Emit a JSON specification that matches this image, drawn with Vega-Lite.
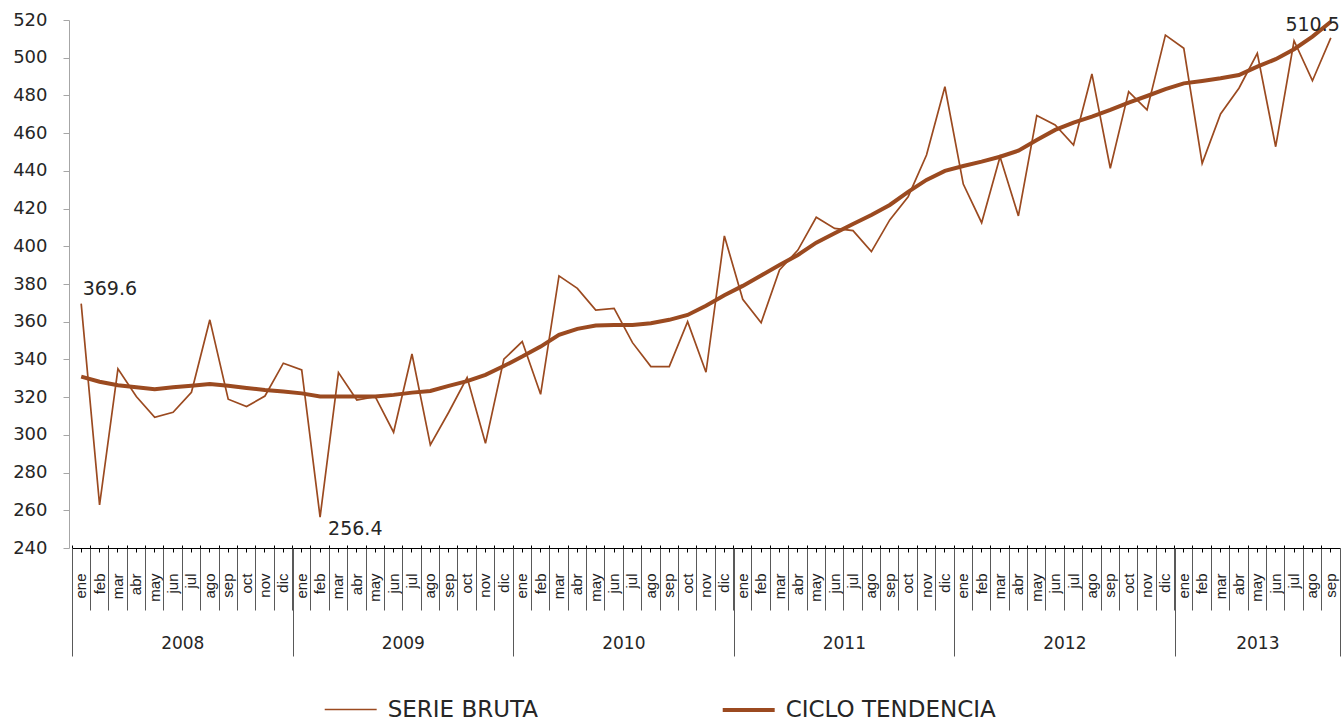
{
  "$schema": "https://vega.github.io/schema/vega-lite/v6.json",
  "width": 1268,
  "height": 528,
  "autosize": {"type": "none"},
  "padding": {"left": 72, "top": 20, "right": 3, "bottom": 174},
  "config": {
    "view": {"stroke": null},
    "font": "DejaVu Sans",
    "axis": {"grid": false, "title": null}
  },
  "layer": [
    {
      "data": {
        "values": [
          {"fecha": "2008-01", "bruta": 369.6, "tendencia": 330.9},
          {"fecha": "2008-02", "bruta": 262.8, "tendencia": 328.2},
          {"fecha": "2008-03", "bruta": 335.0, "tendencia": 326.3},
          {"fecha": "2008-04", "bruta": 320.3, "tendencia": 325.2},
          {"fecha": "2008-05", "bruta": 309.3, "tendencia": 324.2},
          {"fecha": "2008-06", "bruta": 312.0, "tendencia": 325.2},
          {"fecha": "2008-07", "bruta": 322.6, "tendencia": 326.1},
          {"fecha": "2008-08", "bruta": 361.0, "tendencia": 327.0},
          {"fecha": "2008-09", "bruta": 318.9, "tendencia": 326.0},
          {"fecha": "2008-10", "bruta": 315.0, "tendencia": 324.9},
          {"fecha": "2008-11", "bruta": 320.6, "tendencia": 323.8},
          {"fecha": "2008-12", "bruta": 338.0, "tendencia": 323.0},
          {"fecha": "2009-01", "bruta": 334.4, "tendencia": 322.0},
          {"fecha": "2009-02", "bruta": 256.4, "tendencia": 320.3},
          {"fecha": "2009-03", "bruta": 333.0, "tendencia": 320.3},
          {"fecha": "2009-04", "bruta": 318.5, "tendencia": 320.3},
          {"fecha": "2009-05", "bruta": 320.3, "tendencia": 320.3},
          {"fecha": "2009-06", "bruta": 301.4, "tendencia": 321.2},
          {"fecha": "2009-07", "bruta": 342.9, "tendencia": 322.4},
          {"fecha": "2009-08", "bruta": 294.7, "tendencia": 323.3},
          {"fecha": "2009-09", "bruta": 312.0, "tendencia": 326.0},
          {"fecha": "2009-10", "bruta": 330.4, "tendencia": 328.5},
          {"fecha": "2009-11", "bruta": 295.5, "tendencia": 331.8},
          {"fecha": "2009-12", "bruta": 340.1, "tendencia": 336.5},
          {"fecha": "2010-01", "bruta": 349.5, "tendencia": 341.5},
          {"fecha": "2010-02", "bruta": 321.5, "tendencia": 346.8},
          {"fecha": "2010-03", "bruta": 384.3, "tendencia": 353.0},
          {"fecha": "2010-04", "bruta": 377.7, "tendencia": 356.2},
          {"fecha": "2010-05", "bruta": 366.2, "tendencia": 358.0},
          {"fecha": "2010-06", "bruta": 367.1, "tendencia": 358.3},
          {"fecha": "2010-07", "bruta": 348.9, "tendencia": 358.3},
          {"fecha": "2010-08", "bruta": 336.2, "tendencia": 359.2},
          {"fecha": "2010-09", "bruta": 336.2, "tendencia": 361.0},
          {"fecha": "2010-10", "bruta": 360.0, "tendencia": 363.6},
          {"fecha": "2010-11", "bruta": 333.2, "tendencia": 368.5},
          {"fecha": "2010-12", "bruta": 405.5, "tendencia": 374.0},
          {"fecha": "2011-01", "bruta": 371.9, "tendencia": 379.0},
          {"fecha": "2011-02", "bruta": 359.5, "tendencia": 384.5},
          {"fecha": "2011-03", "bruta": 387.4, "tendencia": 390.1},
          {"fecha": "2011-04", "bruta": 398.0, "tendencia": 395.4},
          {"fecha": "2011-05", "bruta": 415.4, "tendencia": 401.9},
          {"fecha": "2011-06", "bruta": 409.5, "tendencia": 406.9},
          {"fecha": "2011-07", "bruta": 408.3, "tendencia": 411.8},
          {"fecha": "2011-08", "bruta": 397.2, "tendencia": 416.6},
          {"fecha": "2011-09", "bruta": 414.0, "tendencia": 421.9},
          {"fecha": "2011-10", "bruta": 426.3, "tendencia": 428.9},
          {"fecha": "2011-11", "bruta": 448.4, "tendencia": 435.2},
          {"fecha": "2011-12", "bruta": 484.6, "tendencia": 440.0},
          {"fecha": "2012-01", "bruta": 433.0, "tendencia": 442.6},
          {"fecha": "2012-02", "bruta": 412.5, "tendencia": 444.9},
          {"fecha": "2012-03", "bruta": 447.5, "tendencia": 447.5},
          {"fecha": "2012-04", "bruta": 416.1, "tendencia": 450.7},
          {"fecha": "2012-05", "bruta": 469.3, "tendencia": 456.4},
          {"fecha": "2012-06", "bruta": 464.3, "tendencia": 461.7},
          {"fecha": "2012-07", "bruta": 453.7, "tendencia": 465.6},
          {"fecha": "2012-08", "bruta": 491.4, "tendencia": 468.8},
          {"fecha": "2012-09", "bruta": 441.4, "tendencia": 472.3},
          {"fecha": "2012-10", "bruta": 482.0, "tendencia": 476.2},
          {"fecha": "2012-11", "bruta": 472.3, "tendencia": 479.7},
          {"fecha": "2012-12", "bruta": 512.0, "tendencia": 483.3},
          {"fecha": "2013-01", "bruta": 505.0, "tendencia": 486.4},
          {"fecha": "2013-02", "bruta": 444.0, "tendencia": 487.7},
          {"fecha": "2013-03", "bruta": 470.2, "tendencia": 489.1},
          {"fecha": "2013-04", "bruta": 483.8, "tendencia": 490.8},
          {"fecha": "2013-05", "bruta": 502.3, "tendencia": 495.3},
          {"fecha": "2013-06", "bruta": 452.8, "tendencia": 499.2},
          {"fecha": "2013-07", "bruta": 509.0, "tendencia": 504.5},
          {"fecha": "2013-08", "bruta": 487.8, "tendencia": 511.2},
          {"fecha": "2013-09", "bruta": 510.5, "tendencia": 519.1}
        ]
      },
      "transform": [{"fold": ["bruta", "tendencia"], "as": ["serie", "valor"]}],
      "encoding": {
        "y": {
          "field": "valor", "type": "quantitative",
          "scale": {"domain": [240, 520], "nice": false, "zero": false},
          "axis": {
            "values": [240, 260, 280, 300, 320, 340, 360, 380, 400, 420, 440, 460, 480, 500, 520],
            "tickCount": 15, "labelOverlap": false, "labelFlush": false,
            "offset": 3, "domainColor": "#A6A6A6", "tickColor": "#A6A6A6", "tickSize": 6,
            "labelFontSize": 18, "labelPadding": 16, "labelColor": "#262626"
          }
        }
      },
      "layer": [
        {
          "mark": {"type": "line", "strokeJoin": "miter", "strokeCap": "butt"},
          "encoding": {
            "x": {
              "field": "fecha", "type": "ordinal", "sort": null,
              "scale": {"type": "band", "paddingInner": 0, "paddingOuter": 0},
              "axis": {
                "orient": "bottom", "bandPosition": 0.5,
                "domain": true, "domainColor": "#000000", "domainWidth": 1,
                "ticks": true, "tickSize": 4, "tickColor": "#000000", "tickWidth": 1,
                "labelAngle": 270, "labelFont": "Liberation Sans", "labelFontSize": 15,
                "labelColor": "#222222", "labelPadding": 21, "labelOverlap": false,
                "labelExpr": "['ene','feb','mar','abr','may','jun','jul','ago','sep','oct','nov','dic'][toNumber(slice(datum.value, 5)) - 1]"
              }
            },
            "color": {
              "field": "serie", "type": "nominal",
              "scale": {"domain": ["bruta", "tendencia"], "range": ["#9B4A20", "#9B4A20"]},
              "legend": {
                "title": null, "orient": "none", "legendX": 250.7, "legendY": 662,
                "direction": "horizontal", "columns": 2, "padding": 0,
                "symbolType": "stroke", "symbolSize": 2700, "labelFontSize": 23,
                "labelFont": "DejaVu Sans", "labelColor": "#262626", "labelOffset": 9,
                "labelLimit": 400, "columnPadding": 176,
                "labelExpr": "datum.label == 'bruta' ? 'SERIE BRUTA' : 'CICLO TENDENCIA'"
              }
            },
            "strokeWidth": {
              "field": "serie", "type": "nominal",
              "scale": {"domain": ["bruta", "tendencia"], "range": [1.7, 4]},
              "legend": {
                "title": null, "orient": "none", "legendX": 250.7, "legendY": 662,
                "direction": "horizontal", "columns": 2, "padding": 0,
                "symbolType": "stroke", "symbolSize": 2700, "labelFontSize": 23,
                "labelFont": "DejaVu Sans", "labelColor": "#262626", "labelOffset": 9,
                "labelLimit": 400, "columnPadding": 176,
                "labelExpr": "datum.label == 'bruta' ? 'SERIE BRUTA' : 'CICLO TENDENCIA'"
              }
            }
          }
        },
        {
          "transform": [{"filter": "datum.serie == 'bruta' && datum.fecha == '2008-01'"}],
          "mark": {"type": "text", "align": "left", "baseline": "alphabetic", "dx": 1.5, "dy": -9, "fontSize": 19, "color": "#262626"},
          "encoding": {
            "x": {
              "field": "fecha", "type": "ordinal", "sort": null,
              "axis": {"orient": "bottom", "bandPosition": 0, "domain": false, "labels": false, "ticks": true, "tickSize": 62, "tickColor": "#595959", "tickWidth": 1}
            },
            "text": {"field": "valor", "type": "quantitative", "format": ".1f"}
          }
        },
        {
          "transform": [{"filter": "datum.serie == 'bruta' && datum.fecha == '2009-02'"}],
          "mark": {"type": "text", "align": "left", "baseline": "top", "dx": 8, "dy": 3, "fontSize": 19, "color": "#262626"},
          "encoding": {
            "x": {
              "field": "fecha", "type": "ordinal", "sort": null,
              "axis": {"orient": "bottom", "values": ["2013-09"], "bandPosition": 1, "domain": false, "labels": false, "ticks": true, "tickSize": 62, "tickColor": "#595959", "tickWidth": 1}
            },
            "text": {"field": "valor", "type": "quantitative", "format": ".1f"}
          }
        },
        {
          "transform": [{"filter": "datum.serie == 'bruta' && datum.fecha == '2013-09'"}],
          "mark": {"type": "text", "align": "right", "baseline": "alphabetic", "dx": 9, "dy": -7, "fontSize": 19, "color": "#262626"},
          "encoding": {
            "x": {
              "field": "fecha", "type": "ordinal", "sort": null,
              "axis": {"orient": "bottom", "bandPosition": 0, "domain": false, "labels": false, "ticks": true, "tickSize": -3, "tickColor": "#000000", "tickWidth": 1}
            },
            "text": {"field": "valor", "type": "quantitative", "format": ".1f"}
          }
        }
      ],
      "resolve": {"axis": {"x": "independent"}}
    },
    {
      "data": {
        "values": [
          {"anio": "2008", "inicio": 0},
          {"anio": "2009", "inicio": 12},
          {"anio": "2010", "inicio": 24},
          {"anio": "2011", "inicio": 36},
          {"anio": "2012", "inicio": 48},
          {"anio": "2013", "inicio": 60}
        ]
      },
      "layer": [
        {
          "mark": {"type": "point", "opacity": 0},
          "encoding": {
            "x": {
              "field": "inicio", "type": "quantitative",
              "scale": {"domain": [0, 69], "nice": false, "zero": false},
              "axis": {"orient": "bottom", "values": [0, 12, 24, 36, 48, 60, 69], "domain": false, "labels": false, "ticks": true, "tickSize": 108, "tickColor": "#595959", "tickWidth": 1}
            }
          }
        },
        {
          "mark": {"type": "point", "opacity": 0},
          "encoding": {
            "x": {
              "field": "inicio", "type": "quantitative",
              "axis": {
                "orient": "bottom", "values": [6, 18, 30, 42, 54, 64.5], "domain": false, "ticks": false,
                "labelFontSize": 17, "labelColor": "#262626", "labelPadding": 87, "labelFlush": false, "labelOverlap": false,
                "labelExpr": "datum.value < 12 ? '2008' : datum.value < 24 ? '2009' : datum.value < 36 ? '2010' : datum.value < 48 ? '2011' : datum.value < 60 ? '2012' : '2013'"
              }
            }
          }
        }
      ],
      "resolve": {"axis": {"x": "independent"}}
    }
  ],
  "resolve": {"scale": {"x": "independent"}}
}
